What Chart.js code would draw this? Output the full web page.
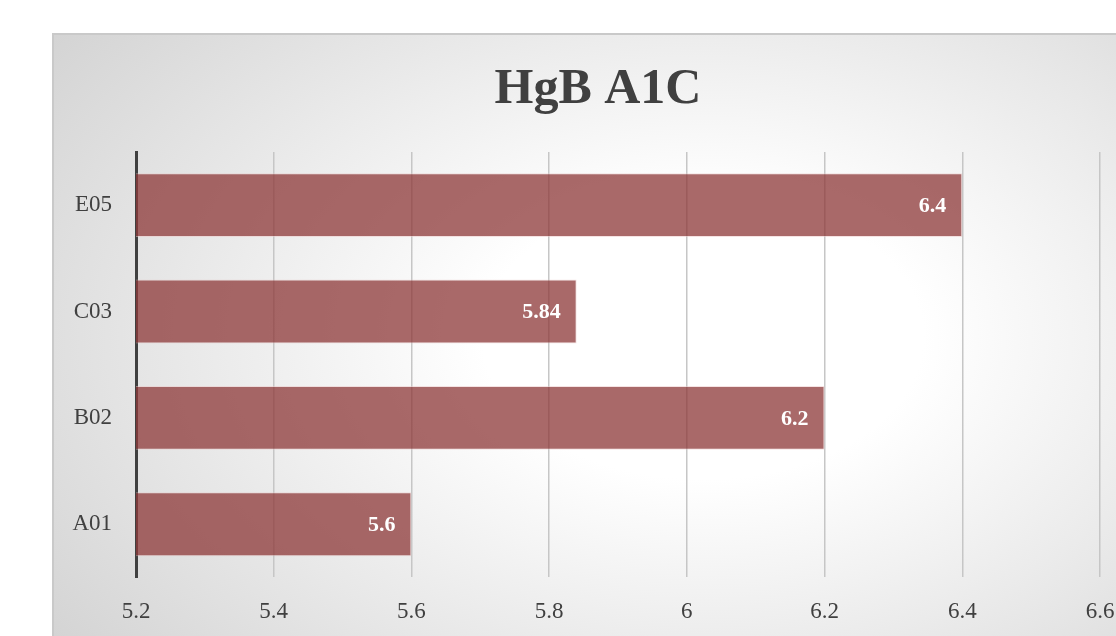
<!DOCTYPE html>
<html>
<head>
<meta charset="utf-8">
<script src="https://cdn.jsdelivr.net/npm/chart.js@4.4.1/dist/chart.umd.min.js"></script>
<style>
  html, body { margin: 0; padding: 0; width: 1116px; height: 636px; overflow: hidden; background: #ffffff; }
  #frame {
    position: absolute; left: 52px; top: 33px;
    width: 1180px; height: 720px;
    border: 2px solid #c9c9c9;
    background: radial-gradient(ellipse farthest-corner at 55% 42%, #ffffff 0%, #ffffff 24%, #cbcbcb 100%);
  }
  #chart { position: absolute; left: 0; top: 0; }
</style>
</head>
<body>
<div id="frame"><canvas id="chart" width="1086" height="612"></canvas></div>
<script>
// HbA1c results per patient
const categories = ['A01', 'B02', 'C03', 'E05'];
const hba1cValues = [5.6, 6.2, 5.84, 6.4];
const axisMin = 5.2;
const axisMax = 6.6;
const axisStep = 0.2;
const chartTitle = 'HgB A1C';

const SERIF = '"Liberation Serif", "DejaVu Serif", serif';
const TEXT = '#404040';

// heading, centred a little left of the plot centre
const headingPlugin = {
  id: 'heading',
  afterDraw(chart) {
    const ctx = chart.ctx;
    const area = chart.chartArea;
    ctx.save();
    ctx.fillStyle = TEXT;
    ctx.font = 'bold 50px ' + SERIF;
    ctx.textAlign = 'center';
    ctx.textBaseline = 'middle';
    ctx.fillText(chartTitle, (area.left + area.right) / 2 - 20, area.top - 62);
    ctx.restore();
  }
};

// writes each bar's value inside its right end
const barValueLabels = {
  id: 'barValueLabels',
  afterDatasetsDraw(chart) {
    const ctx = chart.ctx;
    const meta = chart.getDatasetMeta(0);
    ctx.save();
    ctx.fillStyle = '#ffffff';
    ctx.font = 'bold 22px ' + SERIF;
    ctx.textAlign = 'right';
    ctx.textBaseline = 'middle';
    meta.data.forEach((bar, i) => {
      const v = chart.data.datasets[0].data[i];
      ctx.fillText(String(v), bar.x - 16, bar.y + 1);
    });
    ctx.restore();
  }
};

new Chart(document.getElementById('chart'), {
  type: 'bar',
  data: {
    labels: categories,
    datasets: [{
      data: hba1cValues,
      backgroundColor: 'rgba(142, 58, 58, 0.76)',
      borderColor: 'rgba(235, 200, 200, 0.5)',
      borderWidth: 1,
      categoryPercentage: 0.8,
      barPercentage: 0.75
    }]
  },
  options: {
    indexAxis: 'y',
    responsive: false,
    animation: false,
    layout: { padding: { left: 0, right: 40, top: 117, bottom: 0 } },
    plugins: {
      legend: { display: false },
      tooltip: { enabled: false },
      title: { display: false }
    },
    scales: {
      x: {
        type: 'linear',
        min: axisMin,
        max: axisMax,
        grid: { display: true, color: '#c6c6c6', lineWidth: 1.5, drawTicks: false },
        border: { display: false },
        ticks: {
          stepSize: axisStep,
          color: TEXT,
          padding: 21,
          maxRotation: 0,
          font: { family: SERIF, size: 23 },
          callback: (v) => String(Math.round(v * 10) / 10)
        },
        afterFit(scale) { scale.paddingLeft = 0; scale.paddingRight = 0; }
      },
      y: {
        reverse: true,
        grid: { display: true, color: 'rgba(0,0,0,0)', drawTicks: false },
        border: { display: true, color: '#404040', width: 3 },
        ticks: { color: TEXT, padding: 24, font: { family: SERIF, size: 23 } },
        afterFit(scale) { scale.width = 82; }
      }
    }
  },
  plugins: [barValueLabels, headingPlugin]
});
</script>
</body>
</html>
